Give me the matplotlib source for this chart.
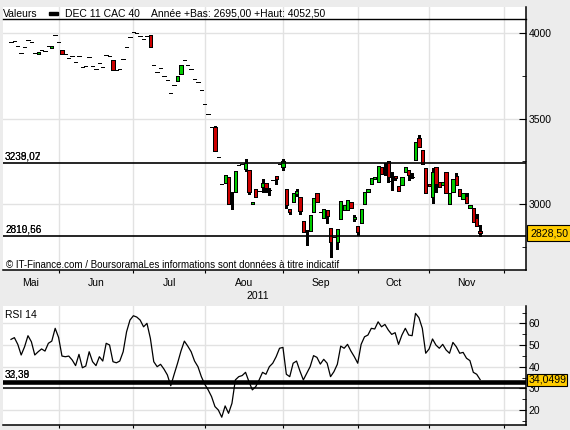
import matplotlib
matplotlib.use("Agg")
import matplotlib.pyplot as plt
from matplotlib.patches import Rectangle
import numpy as np
import pandas as pd

plt.rcParams["font.family"] = ["Liberation Sans", "DejaVu Sans"]
plt.rcParams["font.size"] = 7.5

# jours de bourse affiches (12 mai - 22 nov 2011)
dates = pd.bdate_range("2011-05-12", "2011-11-22")

opens = [3951, 3957, 3927, 3883, 3918, 3963, 3947, 3883, 3877, 3900,
         3895, 3924, 3912, 3988, 3949, 3902, 3877, 3855, 3867, 3832,
         3867, 3803, 3807, 3859, 3807, 3791, 3828, 3801, 3871, 3865,
         3844, 3783, 3789, 3848, 3918, 3977, 4006, 4000, 3984, 3965,
         3984, 3988, 3813, 3773, 3797, 3750, 3726, 3650, 3695, 3719,
         3760, 3844, 3813, 3791, 3732, 3713, 3666, 3584, 3526, 3451,
         3451, 3274, 3117, 3125, 3160, 3069, 3069, 3230, 3233, 3203,
         3197, 2999, 3090, 3078, 3101, 3121, 3080, 3143, 3164, 3233,
         3214, 3088, 2969, 3014, 3057, 3039, 2900, 2838, 2844, 2951,
         3067, 2951, 2918, 2963, 2858, 2809, 2777, 2912, 2963, 2963,
         3010, 2911, 2873, 2891, 2999, 3070, 3117, 3148, 3131, 3215,
         3180, 3252, 3135, 3164, 3106, 3111, 3189, 3199, 3160, 3256,
         3385, 3316, 3211, 3119, 3043, 3215, 3127, 3111, 3189, 2999,
         3072, 3164, 3088, 3029, 3047, 2975, 2975, 2920, 2842]
highs = [3951, 3957, 3927, 3883, 3918, 3963, 3947, 3883, 3892, 3900,
         3895, 3924, 3927, 3988, 3949, 3902, 3877, 3855, 3867, 3832,
         3867, 3803, 3807, 3859, 3807, 3791, 3828, 3801, 3871, 3865,
         3844, 3783, 3789, 3848, 3918, 3977, 4006, 4000, 3984, 3965,
         3984, 3988, 3813, 3773, 3797, 3750, 3726, 3650, 3695, 3748,
         3813, 3844, 3813, 3791, 3732, 3713, 3666, 3584, 3526, 3451,
         3459, 3274, 3117, 3168, 3160, 3069, 3195, 3230, 3233, 3262,
         3197, 3010, 3090, 3078, 3145, 3121, 3096, 3143, 3164, 3233,
         3262, 3088, 2969, 3063, 3090, 3039, 2900, 2845, 2934, 3033,
         3067, 2951, 2971, 2963, 2858, 2809, 2852, 3018, 2994, 3024,
         3010, 2934, 2873, 2971, 3070, 3086, 3150, 3160, 3223, 3215,
         3240, 3252, 3189, 3164, 3106, 3160, 3215, 3199, 3180, 3361,
         3404, 3316, 3211, 3119, 3213, 3215, 3127, 3131, 3189, 3063,
         3145, 3180, 3088, 3063, 3063, 2994, 2975, 2940, 2877]
lows = [3951, 3957, 3927, 3883, 3918, 3963, 3947, 3883, 3877, 3900,
        3895, 3924, 3912, 3988, 3949, 3877, 3877, 3855, 3867, 3832,
        3867, 3803, 3807, 3859, 3807, 3791, 3828, 3801, 3871, 3865,
        3783, 3783, 3789, 3848, 3918, 3977, 4006, 4000, 3984, 3965,
        3984, 3918, 3813, 3773, 3797, 3750, 3726, 3650, 3695, 3719,
        3760, 3844, 3813, 3791, 3732, 3713, 3666, 3584, 3526, 3451,
        3312, 3274, 3117, 3125, 2999, 2969, 3069, 3230, 3233, 3195,
        3057, 2999, 3039, 3078, 3070, 3070, 3051, 3143, 3115, 3233,
        3199, 2975, 2942, 3014, 3047, 2940, 2838, 2762, 2844, 2951,
        3012, 2951, 2918, 2890, 2691, 2809, 2736, 2912, 2963, 2963,
        2975, 2900, 2818, 2891, 2999, 3070, 3117, 3148, 3131, 3176,
        3170, 3131, 3082, 3141, 3078, 3111, 3189, 3141, 3150, 3256,
        3334, 3234, 3063, 3106, 3008, 3072, 3100, 3111, 3066, 2999,
        3072, 3111, 3047, 3029, 3004, 2975, 2893, 2869, 2814]
closes = [3951, 3957, 3927, 3883, 3918, 3963, 3947, 3883, 3892, 3900,
          3895, 3924, 3927, 3988, 3949, 3877, 3877, 3855, 3867, 3832,
          3867, 3803, 3807, 3859, 3807, 3791, 3828, 3801, 3871, 3865,
          3783, 3783, 3789, 3848, 3918, 3977, 4006, 4000, 3984, 3965,
          3984, 3918, 3813, 3773, 3797, 3750, 3726, 3650, 3695, 3748,
          3813, 3844, 3813, 3791, 3732, 3713, 3666, 3584, 3526, 3451,
          3312, 3274, 3117, 3168, 2999, 3069, 3195, 3230, 3233, 3242,
          3070, 3010, 3039, 3078, 3121, 3096, 3080, 3143, 3148, 3233,
          3250, 2994, 2955, 3063, 3078, 2961, 2838, 2838, 2934, 3033,
          3012, 2951, 2971, 2931, 2776, 2809, 2852, 3018, 2994, 3024,
          2975, 2924, 2838, 2971, 3070, 3086, 3150, 3160, 3223, 3176,
          3180, 3156, 3135, 3150, 3078, 3160, 3215, 3170, 3160, 3361,
          3334, 3234, 3063, 3106, 3185, 3119, 3100, 3131, 3066, 3063,
          3145, 3111, 3047, 3063, 3004, 2994, 2893, 2869, 2828.5]

rsi14 = [52.6, 53.4, 50.3, 45.4, 49.2, 54.3, 51.5, 45.4, 46.9, 48.2,
         47.2, 50.8, 51.8, 57.7, 53.5, 44.9, 44.6, 44.9, 43.1, 40.5,
         45.7, 39.5, 40.3, 46.9, 42.3, 40.5, 44.6, 42.6, 50.8, 50.0,
         42.3, 41.8, 42.6, 46.9, 56.1, 61.5, 63.5, 62.9, 61.5, 58.4,
         60.0, 53.1, 42.3, 40.0, 41.1, 38.9, 36.2, 31.2, 36.5, 41.6,
         47.2, 51.8, 49.5, 46.9, 42.6, 40.0, 35.4, 31.9, 29.3, 26.2,
         21.6, 20.0, 16.7, 21.9, 18.5, 23.1, 33.9, 35.4, 35.9, 37.4,
         33.1, 29.3, 30.8, 33.9, 37.4, 36.5, 40.0, 41.6, 44.6, 48.5,
         48.9, 36.5, 35.4, 41.6, 42.6, 38.0, 33.9, 37.0, 40.0, 45.1,
         44.3, 41.2, 43.4, 41.6, 35.4, 37.7, 41.1, 49.5, 48.5, 50.3,
         47.2, 44.6, 41.6, 50.3, 53.8, 54.6, 57.7, 57.4, 60.7, 58.4,
         59.5, 56.9, 54.9, 55.7, 50.3, 54.6, 57.7, 54.6, 54.3, 64.6,
         62.6, 57.7, 46.2, 48.2, 52.8, 50.0, 48.5, 50.3, 47.7, 46.2,
         51.2, 49.2, 46.2, 46.6, 43.9, 42.8, 37.4, 36.5, 34.05]

month_names = {5: "Mai", 6: "Jun", 7: "Jul", 8: "Aou", 9: "Sep", 10: "Oct", 11: "Nov"}
price_levels = [3238.02, 2810.56]
price_level_labels = [("3238,02", "3239,07"), ("2810,56", "2819,66")]
rsi_thick_level = 33.0
rsi_thin_level = 30.4
rsi_level_labels = ("32,39", "33,38")
last_price = 2828.50
last_rsi = 34.0499

BG = "#ececec"
GRID = "#e2e2e2"
UP = "#00cc00"
DOWN = "#cc0000"
TAG = "#ffcc00"

fig = plt.figure(figsize=(5.7, 4.3), dpi=100, facecolor=BG)


def px_box(x0, y0, x1, y1):
    return [x0 / 570, 1 - y1 / 430, (x1 - x0) / 570, (y1 - y0) / 430]


ax = fig.add_axes(px_box(3, 7, 526, 270))
ax2 = fig.add_axes(px_box(3, 306, 526, 425))

x = np.arange(len(dates))
o = np.array(opens, float)
h = np.array(highs, float)
l = np.array(lows, float)
c = np.array(closes, float)
flat = o == c
col = np.where(c > o, UP, DOWN)

# bornes des mois (en jours de bourse)
cal = pd.bdate_range("2011-05-02", "2011-12-30")
pos = np.arange(len(cal)) - cal.get_loc(dates[0])
starts = [p for p, d0, d1 in zip(pos[1:], cal[:-1], cal[1:]) if d1.month != d0.month]
starts = [pos[0]] + starts
xlim = (-2.35, 151.5)
bounds = [s for s in starts if xlim[0] < s < xlim[1]]
mids, mlabels = [], []
for i, s in enumerate(starts[:-1]):
    m = cal[pos == s][0].month
    if m in month_names:
        mids.append((max(s, xlim[0]) + starts[i + 1]) / 2)
        mlabels.append(month_names[m])

for a in (ax, ax2):
    a.set_facecolor("white")
    a.set_xlim(*xlim)
    a.set_xticks(bounds)
    a.grid(True, axis="both", which="major", color=GRID, lw=1, zorder=0)
    a.set_axisbelow(True)
    for s in ("top", "left"):
        a.spines[s].set_visible(False)
    for s in ("bottom", "right"):
        a.spines[s].set_linewidth(1.1)
    a.yaxis.tick_right()
    a.tick_params(axis="y", which="major", direction="in", length=5, pad=2)
    a.tick_params(axis="y", which="minor", direction="in", length=3)
    a.tick_params(axis="x", which="major", direction="out", length=2.5, labelbottom=False)

# graphique des cours
ax.set_ylim(2613, 4154)
ax.set_yticks([3000, 3500, 4000])
ax.set_yticks([2750, 3250, 3750], minor=True)
ax.vlines(x, l, h, color="black", lw=0.75, zorder=3, antialiased=False)
ax.bar(x[~flat], (c - o)[~flat], bottom=o[~flat], width=0.95, color=col[~flat],
       edgecolor="black", linewidth=0.5, zorder=4, antialiased=False)
ax.hlines(c[flat], x[flat] - 0.5, x[flat] + 0.5, color="black", lw=0.7, zorder=4,
          antialiased=False)
for lev, labs in zip(price_levels, price_level_labels):
    ax.axhline(lev, color="black", lw=1.2, zorder=5)
    for t in labs:
        ax.annotate(t, xy=(0.004, lev), xycoords=("axes fraction", "data"),
                    xytext=(0, 3), textcoords="offset points", va="baseline", fontsize=7.2)
ax.set_xticks(mids, minor=True)
ax.set_xticklabels(mlabels, minor=True)
ax.tick_params(axis="x", which="minor", length=0, pad=6, labelbottom=True)
ax.plot([0, 1], [0.9544, 0.9544], transform=ax.transAxes, color="black", lw=1, clip_on=False)
ax.annotate("2828,50", xy=(1, last_price), xycoords=("axes fraction", "data"),
            xytext=(3, 0), textcoords="offset points", va="center", ha="left", fontsize=7.6,
            bbox=dict(boxstyle="square,pad=0.3", fc=TAG, ec="black", lw=0.8),
            annotation_clip=False, zorder=10)

# RSI
ax2.set_ylim(13.1, 68.0)
ax2.set_yticks([20, 30, 40, 50, 60])
ax2.set_yticks([15, 25, 35, 45, 55, 65], minor=True)
ax2.plot(x, rsi14, color="black", lw=0.9, zorder=4)
ax2.axhline(rsi_thick_level, color="black", lw=3.3, zorder=5)
ax2.axhline(rsi_thin_level, color="black", lw=1.1, zorder=5)
for t in rsi_level_labels:
    ax2.annotate(t, xy=(0.004, rsi_thick_level), xycoords=("axes fraction", "data"),
                 xytext=(0, 3), textcoords="offset points", va="baseline", fontsize=7.2)
ax2.annotate("34,0499", xy=(1, last_rsi), xycoords=("axes fraction", "data"),
             xytext=(1.5, 0), textcoords="offset points", va="center", ha="left", fontsize=7.6,
             bbox=dict(boxstyle="square,pad=0.1", fc=TAG, ec="black", lw=0.8),
             annotation_clip=False, zorder=10)

# textes d'en-tete
fig.text(3.3 / 570, 1 - 16.7 / 430, "Valeurs", va="baseline")
fig.patches.append(Rectangle((49 / 570, 1 - 15 / 430), 9 / 570, 3.5 / 430,
                             transform=fig.transFigure, color="black"))
fig.text(65 / 570, 1 - 16.7 / 430, "DEC 11 CAC 40", va="baseline")
fig.text(151 / 570, 1 - 16.7 / 430, "Année +Bas: 2695,00 +Haut: 4052,50", va="baseline")
fig.text(6 / 570, 1 - 267.5 / 430,
         "© IT-Finance.com / BoursoramaLes informations sont données à titre indicatif",
         va="baseline", fontsize=7)
fig.text(258 / 570, 1 - 296 / 430, "2011", ha="center", va="center")
fig.text(5 / 570, 1 - 318.3 / 430, "RSI 14", va="baseline")

fig.savefig("out.png", dpi=100, facecolor=BG)
